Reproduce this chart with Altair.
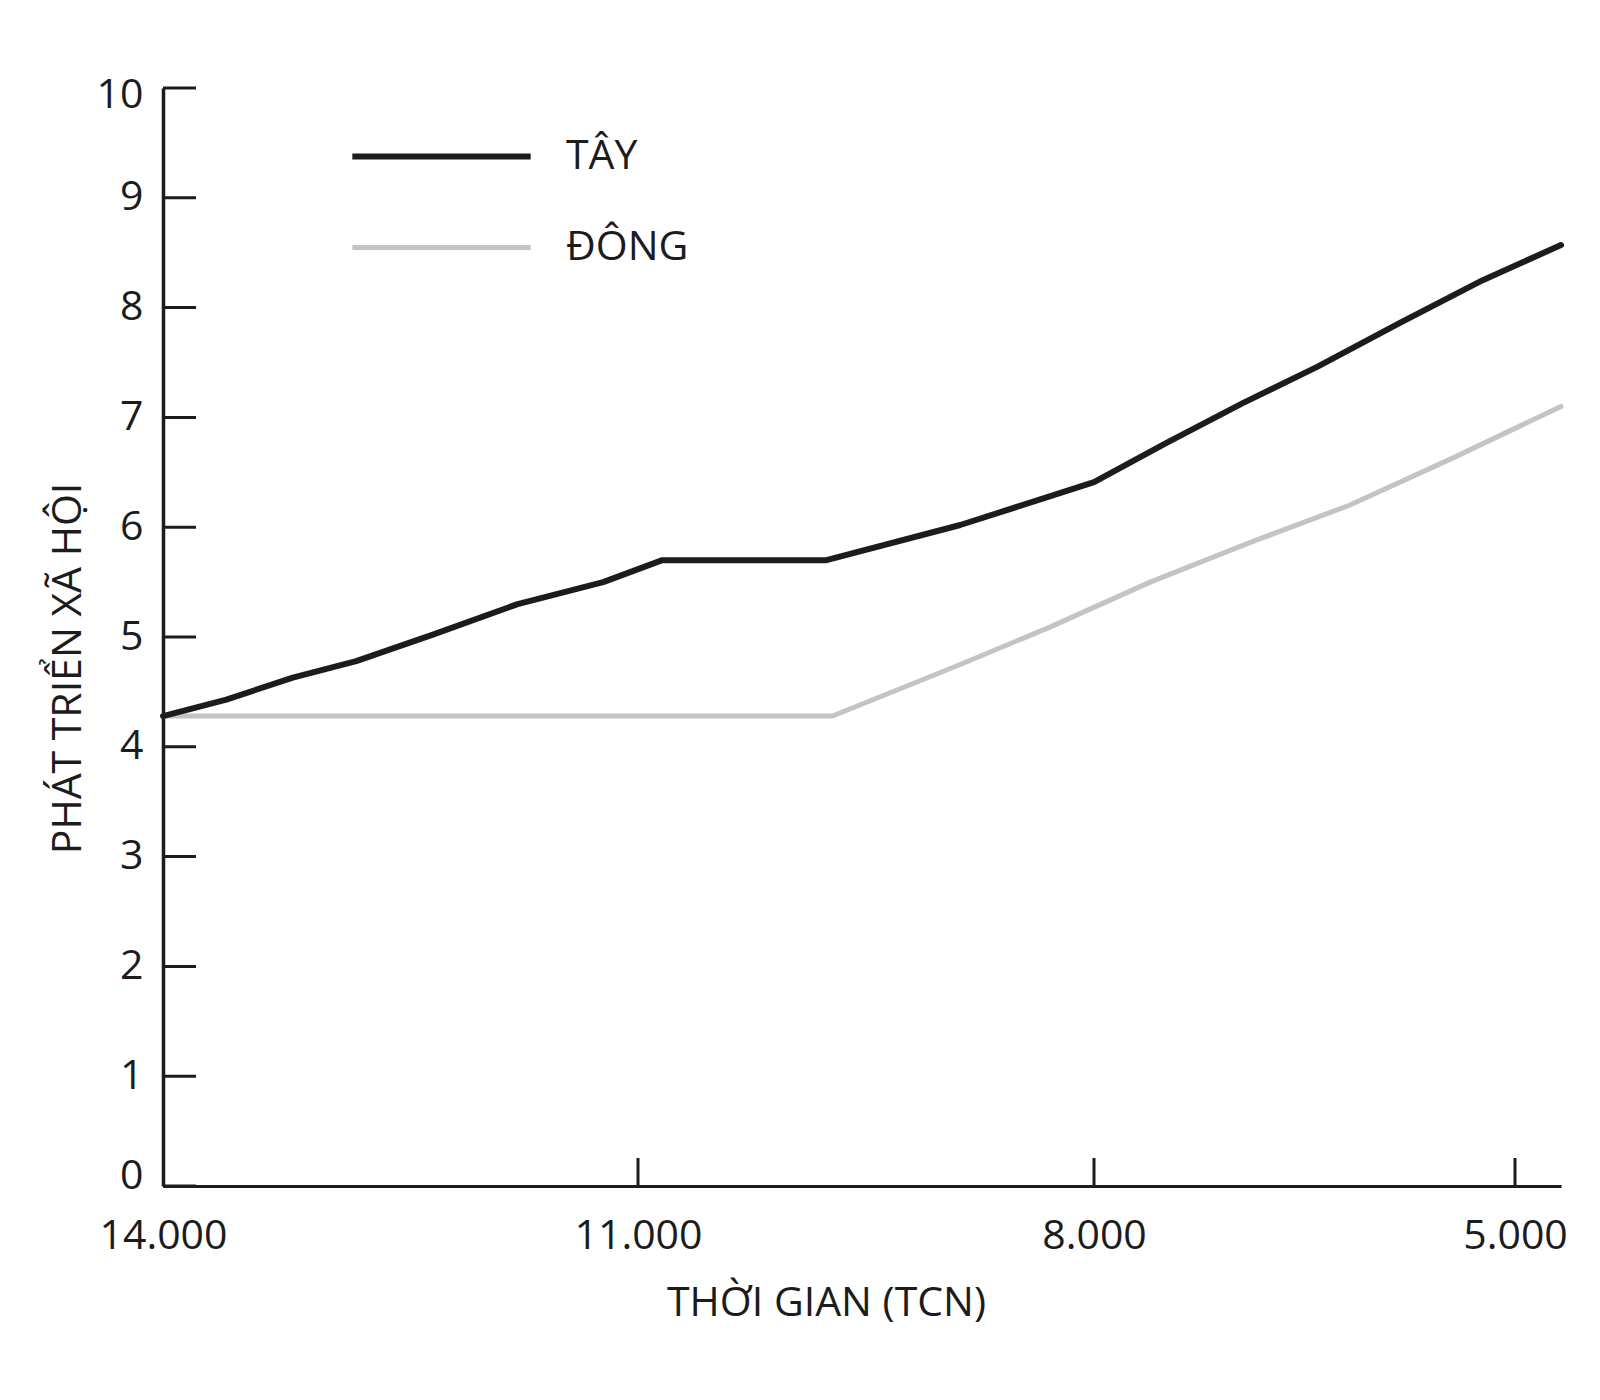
import altair as alt
import pandas as pd

# ---- data ----
series = ["TÂY", "ĐÔNG"]
colors = ["#1c1c1c", "#c4c4c4"]
widths = [6, 5]

years_tay = [14000, 13600, 13180, 12780, 12300, 11760, 11220, 10840, 9760, 8880,
             8000, 7480, 6940, 6410, 5820, 5230, 4700]
vals_tay = [4.28, 4.43, 4.63, 4.78, 5.02, 5.30, 5.50, 5.70, 5.70, 6.02,
            6.41, 6.77, 7.13, 7.46, 7.86, 8.25, 8.57]

years_dong = [14000, 9720, 8880, 8290, 7600, 6890, 6180, 5460, 4700]
vals_dong = [4.28, 4.28, 4.75, 5.09, 5.50, 5.86, 6.20, 6.62, 7.10]

x_ticks = [14000, 11000, 8000, 5000]
y_ticks = list(range(0, 11))

x_title = "THỜI GIAN (TCN)"
y_title = "PHÁT TRIỂN XÃ HỘI"

# ---- tables ----
rows = []
for y, v in zip(years_dong, vals_dong):
    rows.append({"year": y, "value": v, "series": "ĐÔNG"})
for y, v in zip(years_tay, vals_tay):
    rows.append({"year": y, "value": v, "series": "TÂY"})
df = pd.DataFrame(rows)
df_y = pd.DataFrame({"value": y_ticks})
df_x = pd.DataFrame({"year": x_ticks[1:]})

W, H = 1398, 1098
FONT = "Open Sans"
FS = 41
INK = "#1c1c1c"

# the reference's time axis is drawn slightly unevenly; follow its tick spacing
xscale = alt.Scale(domain=[14000, 11000, 8000, 5000, 4700],
                   range=[0, 475, 931, 1352, W], nice=False, zero=False)
yscale = alt.Scale(domain=[0, 10], nice=False, zero=True)

xaxis = alt.Axis(values=x_ticks, title=x_title, ticks=False, grid=False,
                 labelExpr="replace(format(datum.value, ','), ',', '.')",
                 labelFont=FONT, labelFontSize=FS, labelColor=INK,
                 labelPadding=30, labelFlush=False, labelOverlap=False,
                 domainColor=INK, domainWidth=3,
                 titleFont=FONT, titleFontSize=FS, titleFontWeight="normal",
                 titleColor=INK, titleX=663, titleY=129,
                 titleBaseline="alphabetic", titleAlign="center")
yaxis = alt.Axis(values=y_ticks, title=y_title, ticks=False, grid=False,
                 labelFont=FONT, labelFontSize=FS, labelColor=INK,
                 labelPadding=20, labelFlush=False, labelOverlap=False,
                 labelBaseline="middle",
                 labelOffset={"condition": [{"test": "datum.value == 0", "value": -10},
                                            {"test": "datum.value == 10", "value": 7}],
                              "value": 0},
                 domainColor=INK, domainWidth=3.5,
                 titleFont=FONT, titleFontSize=FS, titleFontWeight="normal",
                 titleColor=INK, titleAngle=270, titleX=-83, titleY=580,
                 titleBaseline="alphabetic", titleAlign="center")

lines = alt.Chart(df).mark_line(strokeJoin="round", strokeCap="round").encode(
    x=alt.X("year:Q", scale=xscale, axis=xaxis),
    y=alt.Y("value:Q", scale=yscale, axis=yaxis),
    color=alt.Color("series:N", sort=series,
                    scale=alt.Scale(domain=series, range=colors),
                    legend=alt.Legend(title=None, orient="none", legendX=258, legendY=48,
                                      symbolType="M-6.15,0H6.15", symbolSize=841,
                                      symbolStrokeWidth=6, labelFont=FONT,
                                      labelFontSize=FS, labelColor=INK,
                                      labelOffset=104, rowPadding=49, padding=0)),
    strokeWidth=alt.StrokeWidth("series:N", scale=alt.Scale(domain=series, range=widths),
                                legend=None),
    detail="series:N",
)

ytick_rules = alt.Chart(df_y).mark_rule(color=INK, strokeWidth=3).encode(
    y=alt.Y("value:Q", scale=yscale, axis=yaxis),
    x=alt.value(0), x2=alt.value(33),
)
xtick_rules = alt.Chart(df_x).mark_rule(color=INK, strokeWidth=3).encode(
    x=alt.X("year:Q", scale=xscale, axis=xaxis),
    y=alt.value(H - 28), y2=alt.value(H),
)

chart = alt.layer(lines, xtick_rules, ytick_rules).properties(
    width=W, height=H,
    autosize=alt.AutoSizeParams(type="none"),
    padding={"left": 155, "top": 80, "right": 30, "bottom": 170},
    background="white",
).configure_view(stroke=None)

chart.save("out.html", embed_options={"renderer": "svg", "actions": False})
